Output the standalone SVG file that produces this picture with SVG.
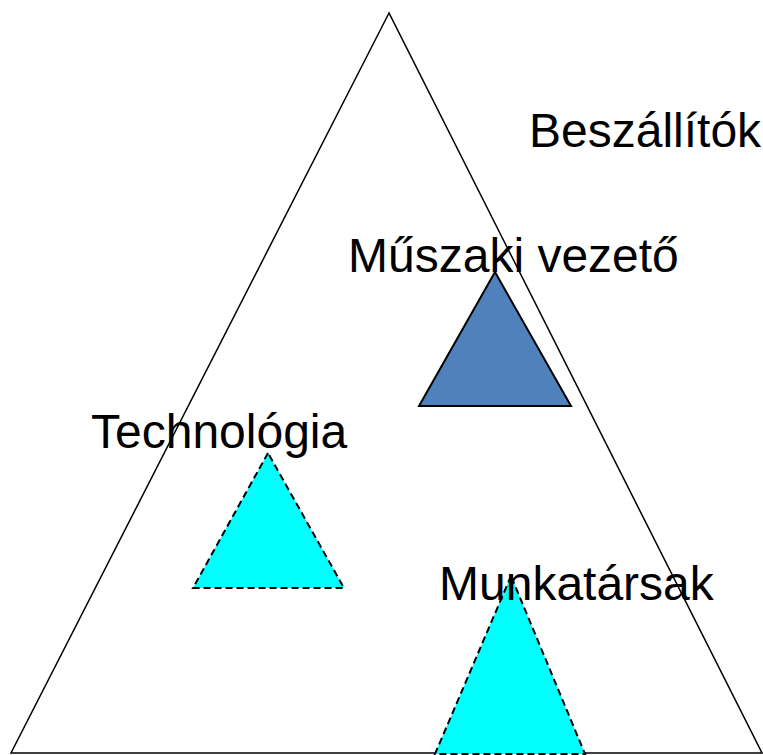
<svg xmlns="http://www.w3.org/2000/svg" width="763" height="755" viewBox="0 0 763 755">
  <style>
    .frame { fill: none; stroke: #000; stroke-width: 1.5; stroke-linejoin: miter; }
    .lead { fill: #4F81BD; stroke: #000; stroke-width: 2; }
    .part { fill: #00FFFF; stroke: #000; stroke-width: 2; stroke-dasharray: 7 4; }
    .label { font-family: "Liberation Sans", Arial, sans-serif; font-size: 48px; fill: #000; }
  </style>
  <rect width="763" height="755" fill="#fff"/>
  <g id="outer">
    <polygon class="frame" points="389,13 11,753 762,753"/>
  </g>
  <g id="beszallitok">
    <text class="label" x="529" y="147">Beszállítók</text>
  </g>
  <g id="muszaki-vezeto">
    <polygon class="lead" points="495,272 419,406 571,406"/>
    <text class="label" x="348" y="272">Műszaki vezető</text>
  </g>
  <g id="technologia">
    <polygon class="part" points="268,453 193,588 344,588"/>
    <text class="label" x="91" y="448">Technológia</text>
  </g>
  <g id="munkatarsak">
    <polygon class="part" points="511,576 435,754 585,754"/>
    <text class="label" x="439" y="600">Munkatársak</text>
  </g>
  <g id="connectors"></g>
</svg>
